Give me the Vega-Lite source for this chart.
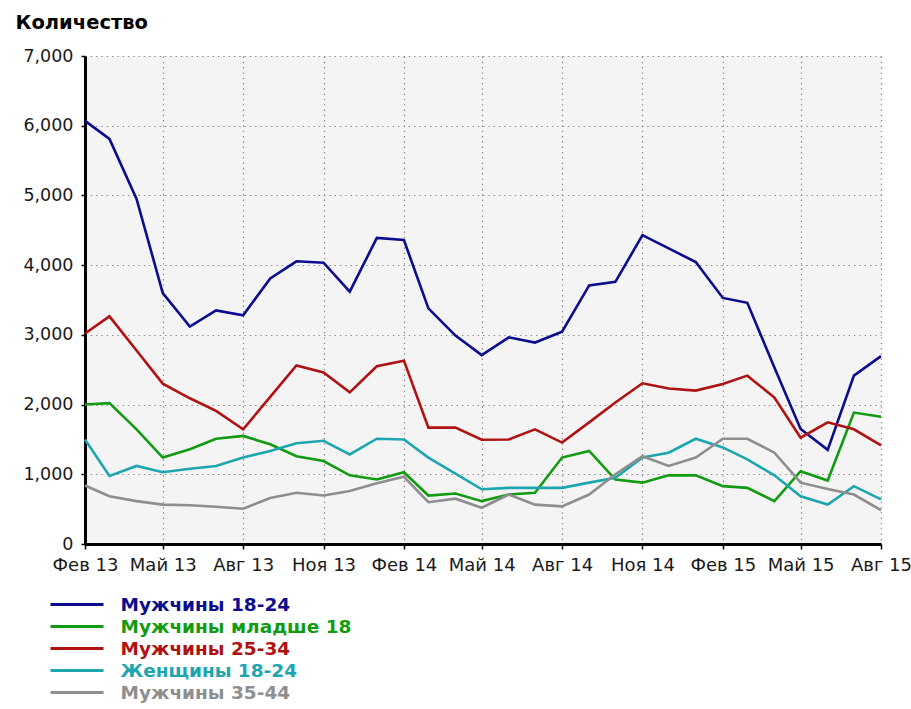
{
  "$schema": "https://vega.github.io/schema/vega-lite/v6.json",
  "width": 796,
  "height": 488,
  "autosize": {"type": "none"},
  "padding": {"left": 85, "top": 56, "right": 30, "bottom": 165},
  "background": "white",
  "config": {
    "font": "DejaVu Sans",
    "view": {"fill": "#f4f4f4", "stroke": null}
  },
  "data": {"values": [
    {"month":"2013-02-01","group":"Мужчины 18-24","count":6070},
    {"month":"2013-03-01","group":"Мужчины 18-24","count":5810},
    {"month":"2013-04-01","group":"Мужчины 18-24","count":4950},
    {"month":"2013-05-01","group":"Мужчины 18-24","count":3600},
    {"month":"2013-06-01","group":"Мужчины 18-24","count":3120},
    {"month":"2013-07-01","group":"Мужчины 18-24","count":3350},
    {"month":"2013-08-01","group":"Мужчины 18-24","count":3280},
    {"month":"2013-09-01","group":"Мужчины 18-24","count":3810},
    {"month":"2013-10-01","group":"Мужчины 18-24","count":4055},
    {"month":"2013-11-01","group":"Мужчины 18-24","count":4035},
    {"month":"2013-12-01","group":"Мужчины 18-24","count":3620},
    {"month":"2014-01-01","group":"Мужчины 18-24","count":4390},
    {"month":"2014-02-01","group":"Мужчины 18-24","count":4360},
    {"month":"2014-03-01","group":"Мужчины 18-24","count":3380},
    {"month":"2014-04-01","group":"Мужчины 18-24","count":2990},
    {"month":"2014-05-01","group":"Мужчины 18-24","count":2710},
    {"month":"2014-06-01","group":"Мужчины 18-24","count":2965},
    {"month":"2014-07-01","group":"Мужчины 18-24","count":2890},
    {"month":"2014-08-01","group":"Мужчины 18-24","count":3045},
    {"month":"2014-09-01","group":"Мужчины 18-24","count":3710},
    {"month":"2014-10-01","group":"Мужчины 18-24","count":3760},
    {"month":"2014-11-01","group":"Мужчины 18-24","count":4430},
    {"month":"2014-12-01","group":"Мужчины 18-24","count":4240},
    {"month":"2015-01-01","group":"Мужчины 18-24","count":4045},
    {"month":"2015-02-01","group":"Мужчины 18-24","count":3530},
    {"month":"2015-03-01","group":"Мужчины 18-24","count":3460},
    {"month":"2015-04-01","group":"Мужчины 18-24","count":2530},
    {"month":"2015-05-01","group":"Мужчины 18-24","count":1650},
    {"month":"2015-06-01","group":"Мужчины 18-24","count":1350},
    {"month":"2015-07-01","group":"Мужчины 18-24","count":2415},
    {"month":"2015-08-01","group":"Мужчины 18-24","count":2695},

    {"month":"2013-02-01","group":"Мужчины младше 18","count":2000},
    {"month":"2013-03-01","group":"Мужчины младше 18","count":2020},
    {"month":"2013-04-01","group":"Мужчины младше 18","count":1645},
    {"month":"2013-05-01","group":"Мужчины младше 18","count":1240},
    {"month":"2013-06-01","group":"Мужчины младше 18","count":1360},
    {"month":"2013-07-01","group":"Мужчины младше 18","count":1510},
    {"month":"2013-08-01","group":"Мужчины младше 18","count":1550},
    {"month":"2013-09-01","group":"Мужчины младше 18","count":1430},
    {"month":"2013-10-01","group":"Мужчины младше 18","count":1260},
    {"month":"2013-11-01","group":"Мужчины младше 18","count":1190},
    {"month":"2013-12-01","group":"Мужчины младше 18","count":985},
    {"month":"2014-01-01","group":"Мужчины младше 18","count":925},
    {"month":"2014-02-01","group":"Мужчины младше 18","count":1030},
    {"month":"2014-03-01","group":"Мужчины младше 18","count":695},
    {"month":"2014-04-01","group":"Мужчины младше 18","count":725},
    {"month":"2014-05-01","group":"Мужчины младше 18","count":615},
    {"month":"2014-06-01","group":"Мужчины младше 18","count":710},
    {"month":"2014-07-01","group":"Мужчины младше 18","count":735},
    {"month":"2014-08-01","group":"Мужчины младше 18","count":1240},
    {"month":"2014-09-01","group":"Мужчины младше 18","count":1335},
    {"month":"2014-10-01","group":"Мужчины младше 18","count":925},
    {"month":"2014-11-01","group":"Мужчины младше 18","count":880},
    {"month":"2014-12-01","group":"Мужчины младше 18","count":985},
    {"month":"2015-01-01","group":"Мужчины младше 18","count":985},
    {"month":"2015-02-01","group":"Мужчины младше 18","count":830},
    {"month":"2015-03-01","group":"Мужчины младше 18","count":805},
    {"month":"2015-04-01","group":"Мужчины младше 18","count":615},
    {"month":"2015-05-01","group":"Мужчины младше 18","count":1045},
    {"month":"2015-06-01","group":"Мужчины младше 18","count":910},
    {"month":"2015-07-01","group":"Мужчины младше 18","count":1885},
    {"month":"2015-08-01","group":"Мужчины младше 18","count":1825},

    {"month":"2013-02-01","group":"Мужчины 25-34","count":3020},
    {"month":"2013-03-01","group":"Мужчины 25-34","count":3265},
    {"month":"2013-04-01","group":"Мужчины 25-34","count":2775},
    {"month":"2013-05-01","group":"Мужчины 25-34","count":2300},
    {"month":"2013-06-01","group":"Мужчины 25-34","count":2090},
    {"month":"2013-07-01","group":"Мужчины 25-34","count":1910},
    {"month":"2013-08-01","group":"Мужчины 25-34","count":1645},
    {"month":"2013-09-01","group":"Мужчины 25-34","count":2110},
    {"month":"2013-10-01","group":"Мужчины 25-34","count":2560},
    {"month":"2013-11-01","group":"Мужчины 25-34","count":2460},
    {"month":"2013-12-01","group":"Мужчины 25-34","count":2175},
    {"month":"2014-01-01","group":"Мужчины 25-34","count":2550},
    {"month":"2014-02-01","group":"Мужчины 25-34","count":2630},
    {"month":"2014-03-01","group":"Мужчины 25-34","count":1670},
    {"month":"2014-04-01","group":"Мужчины 25-34","count":1670},
    {"month":"2014-05-01","group":"Мужчины 25-34","count":1495},
    {"month":"2014-06-01","group":"Мужчины 25-34","count":1500},
    {"month":"2014-07-01","group":"Мужчины 25-34","count":1645},
    {"month":"2014-08-01","group":"Мужчины 25-34","count":1455},
    {"month":"2014-09-01","group":"Мужчины 25-34","count":1745},
    {"month":"2014-10-01","group":"Мужчины 25-34","count":2030},
    {"month":"2014-11-01","group":"Мужчины 25-34","count":2305},
    {"month":"2014-12-01","group":"Мужчины 25-34","count":2230},
    {"month":"2015-01-01","group":"Мужчины 25-34","count":2200},
    {"month":"2015-02-01","group":"Мужчины 25-34","count":2295},
    {"month":"2015-03-01","group":"Мужчины 25-34","count":2415},
    {"month":"2015-04-01","group":"Мужчины 25-34","count":2100},
    {"month":"2015-05-01","group":"Мужчины 25-34","count":1525},
    {"month":"2015-06-01","group":"Мужчины 25-34","count":1745},
    {"month":"2015-07-01","group":"Мужчины 25-34","count":1645},
    {"month":"2015-08-01","group":"Мужчины 25-34","count":1415},

    {"month":"2013-02-01","group":"Женщины 18-24","count":1500},
    {"month":"2013-03-01","group":"Женщины 18-24","count":975},
    {"month":"2013-04-01","group":"Женщины 18-24","count":1120},
    {"month":"2013-05-01","group":"Женщины 18-24","count":1030},
    {"month":"2013-06-01","group":"Женщины 18-24","count":1080},
    {"month":"2013-07-01","group":"Женщины 18-24","count":1120},
    {"month":"2013-08-01","group":"Женщины 18-24","count":1240},
    {"month":"2013-09-01","group":"Женщины 18-24","count":1335},
    {"month":"2013-10-01","group":"Женщины 18-24","count":1445},
    {"month":"2013-11-01","group":"Женщины 18-24","count":1480},
    {"month":"2013-12-01","group":"Женщины 18-24","count":1285},
    {"month":"2014-01-01","group":"Женщины 18-24","count":1510},
    {"month":"2014-02-01","group":"Женщины 18-24","count":1500},
    {"month":"2014-03-01","group":"Женщины 18-24","count":1240},
    {"month":"2014-04-01","group":"Женщины 18-24","count":1010},
    {"month":"2014-05-01","group":"Женщины 18-24","count":785},
    {"month":"2014-06-01","group":"Женщины 18-24","count":805},
    {"month":"2014-07-01","group":"Женщины 18-24","count":805},
    {"month":"2014-08-01","group":"Женщины 18-24","count":805},
    {"month":"2014-09-01","group":"Женщины 18-24","count":880},
    {"month":"2014-10-01","group":"Женщины 18-24","count":950},
    {"month":"2014-11-01","group":"Женщины 18-24","count":1240},
    {"month":"2014-12-01","group":"Женщины 18-24","count":1310},
    {"month":"2015-01-01","group":"Женщины 18-24","count":1510},
    {"month":"2015-02-01","group":"Женщины 18-24","count":1385},
    {"month":"2015-03-01","group":"Женщины 18-24","count":1215},
    {"month":"2015-04-01","group":"Женщины 18-24","count":985},
    {"month":"2015-05-01","group":"Женщины 18-24","count":685},
    {"month":"2015-06-01","group":"Женщины 18-24","count":565},
    {"month":"2015-07-01","group":"Женщины 18-24","count":830},
    {"month":"2015-08-01","group":"Женщины 18-24","count":640},

    {"month":"2013-02-01","group":"Мужчины 35-44","count":840},
    {"month":"2013-03-01","group":"Мужчины 35-44","count":685},
    {"month":"2013-04-01","group":"Мужчины 35-44","count":615},
    {"month":"2013-05-01","group":"Мужчины 35-44","count":565},
    {"month":"2013-06-01","group":"Мужчины 35-44","count":555},
    {"month":"2013-07-01","group":"Мужчины 35-44","count":535},
    {"month":"2013-08-01","group":"Мужчины 35-44","count":505},
    {"month":"2013-09-01","group":"Мужчины 35-44","count":660},
    {"month":"2013-10-01","group":"Мужчины 35-44","count":735},
    {"month":"2013-11-01","group":"Мужчины 35-44","count":695},
    {"month":"2013-12-01","group":"Мужчины 35-44","count":760},
    {"month":"2014-01-01","group":"Мужчины 35-44","count":870},
    {"month":"2014-02-01","group":"Мужчины 35-44","count":965},
    {"month":"2014-03-01","group":"Мужчины 35-44","count":600},
    {"month":"2014-04-01","group":"Мужчины 35-44","count":650},
    {"month":"2014-05-01","group":"Мужчины 35-44","count":520},
    {"month":"2014-06-01","group":"Мужчины 35-44","count":710},
    {"month":"2014-07-01","group":"Мужчины 35-44","count":565},
    {"month":"2014-08-01","group":"Мужчины 35-44","count":540},
    {"month":"2014-09-01","group":"Мужчины 35-44","count":710},
    {"month":"2014-10-01","group":"Мужчины 35-44","count":1000},
    {"month":"2014-11-01","group":"Мужчины 35-44","count":1260},
    {"month":"2014-12-01","group":"Мужчины 35-44","count":1120},
    {"month":"2015-01-01","group":"Мужчины 35-44","count":1240},
    {"month":"2015-02-01","group":"Мужчины 35-44","count":1510},
    {"month":"2015-03-01","group":"Мужчины 35-44","count":1510},
    {"month":"2015-04-01","group":"Мужчины 35-44","count":1310},
    {"month":"2015-05-01","group":"Мужчины 35-44","count":880},
    {"month":"2015-06-01","group":"Мужчины 35-44","count":790},
    {"month":"2015-07-01","group":"Мужчины 35-44","count":710},
    {"month":"2015-08-01","group":"Мужчины 35-44","count":485}
  ]},
  "mark": {"type": "line", "strokeWidth": 2.6, "interpolate": "linear"},
  "encoding": {
    "x": {
      "field": "month",
      "type": "temporal",
      "scale": {"type": "utc", "nice": false, "domain": [{"year": 2013, "month": 2, "date": 1, "utc": true}, {"year": 2015, "month": 8, "date": 1, "utc": true}]},
      "axis": {
        "title": null,
        "values": [
          {"year": 2013, "month": 2, "date": 1, "utc": true},
          {"year": 2013, "month": 5, "date": 1, "utc": true},
          {"year": 2013, "month": 8, "date": 1, "utc": true},
          {"year": 2013, "month": 11, "date": 1, "utc": true},
          {"year": 2014, "month": 2, "date": 1, "utc": true},
          {"year": 2014, "month": 5, "date": 1, "utc": true},
          {"year": 2014, "month": 8, "date": 1, "utc": true},
          {"year": 2014, "month": 11, "date": 1, "utc": true},
          {"year": 2015, "month": 2, "date": 1, "utc": true},
          {"year": 2015, "month": 5, "date": 1, "utc": true},
          {"year": 2015, "month": 8, "date": 1, "utc": true}
        ],
        "labelExpr": "['Янв','Фев','Мар','Апр','Май','Июн','Июл','Авг','Сен','Окт','Ноя','Дек'][utcmonth(datum.value)] + ' ' + utcFormat(datum.value, '%y')",
        "labelFont": "DejaVu Sans",
        "labelFontSize": 18,
        "labelColor": "#1a1a1a",
        "labelPadding": 7,
        "labelOverlap": false,
        "labelFlush": false,
        "labelBound": false,
        "tickSize": 5,
        "tickColor": "black",
        "tickWidth": 1.5,
        "domainColor": "black",
        "domainWidth": 3,
        "grid": true,
        "gridColor": "#8a8a8a",
        "gridDash": [1.4, 3.9],
        "gridWidth": 1.2
      }
    },
    "y": {
      "field": "count",
      "type": "quantitative",
      "scale": {"domain": [0, 7000], "nice": false},
      "axis": {
        "title": "Количество",
        "titleFont": "DejaVu Sans",
        "titleAngle": 0,
        "titleAlign": "left",
        "titleBaseline": "middle",
        "titleX": -70,
        "titleY": -34,
        "titleFontSize": 19.5,
        "titleFontWeight": "bold",
        "titleColor": "black",
        "values": [0, 1000, 2000, 3000, 4000, 5000, 6000, 7000],
        "format": ",d",
        "labelFont": "DejaVu Sans",
        "labelFontSize": 17.5,
        "labelColor": "#1a1a1a",
        "labelPadding": 8,
        "tickSize": 4,
        "tickColor": "black",
        "tickWidth": 1.5,
        "domainColor": "black",
        "domainWidth": 3,
        "grid": true,
        "gridColor": "#8a8a8a",
        "gridDash": [1.4, 3.9],
        "gridWidth": 1.2
      }
    },
    "color": {
      "field": "group",
      "type": "nominal",
      "scale": {
        "domain": ["Мужчины 18-24", "Мужчины младше 18", "Мужчины 25-34", "Женщины 18-24", "Мужчины 35-44"],
        "range": ["#0c0c8e", "#119b11", "#b01212", "#1ea6b0", "#8e8e8e"]
      },
      "legend": {
        "orient": "none",
        "legendX": -19.5,
        "legendY": 537,
        "title": null,
        "padding": 0,
        "symbolType": "M-2.65,0H2.65",
        "symbolSize": 400,
        "symbolStrokeWidth": 3,
        "labelFont": "DejaVu Sans",
        "labelFontSize": 18.5,
        "labelFontWeight": "bold",
        "labelOffset": 32,
        "rowPadding": 1,
        "labelLimit": 400,
        "encode": {"labels": {"update": {"fill": {"scale": "color", "field": "value"}}}}
      }
    }
  }
}
